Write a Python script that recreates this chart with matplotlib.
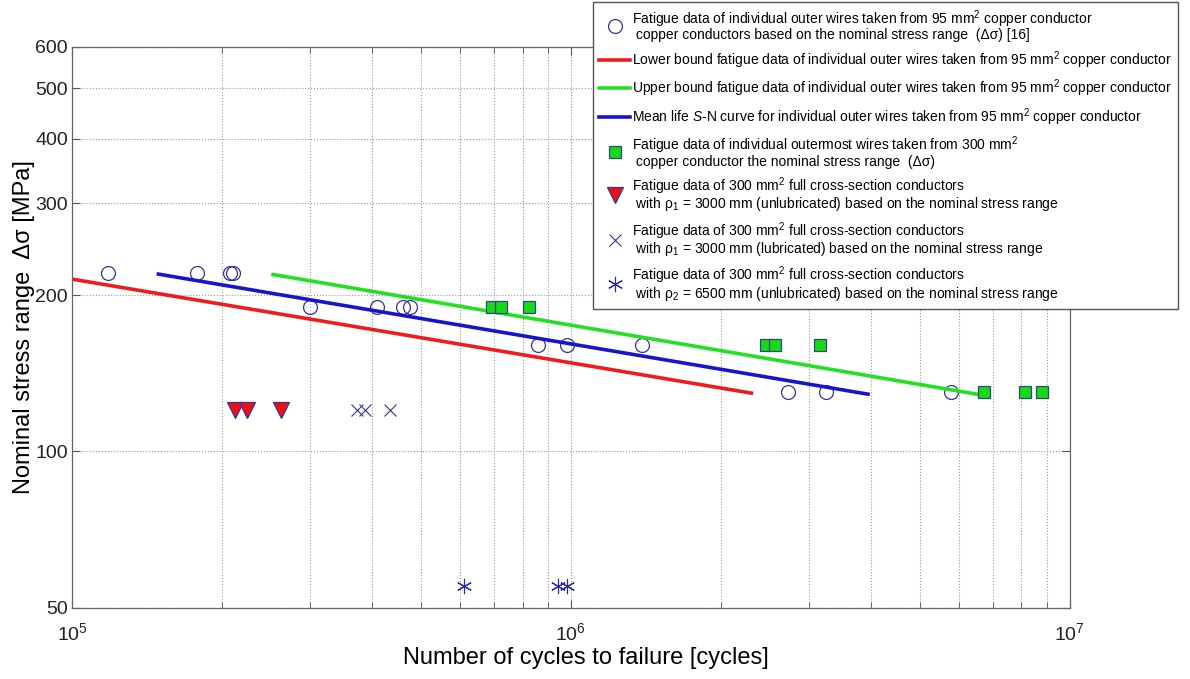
import matplotlib
matplotlib.use('Agg')
import matplotlib.pyplot as plt
from matplotlib.ticker import FixedLocator, FixedFormatter, NullLocator, LogLocator, NullFormatter

plt.rcParams['font.family'] = ['Liberation Sans', 'DejaVu Sans']
plt.rcParams['mathtext.fontset'] = 'custom'
plt.rcParams['mathtext.rm'] = 'Liberation Sans'
plt.rcParams['mathtext.it'] = 'Liberation Sans:italic'
plt.rcParams['mathtext.bf'] = 'Liberation Sans:bold'

# 95 mm2 outer wires (circles)
circ_N = [1.18e5, 1.78e5, 2.07e5, 2.1e5, 3.0e5, 4.08e5, 4.6e5, 4.75e5,
          8.6e5, 9.8e5, 1.39e6, 2.72e6, 3.24e6, 5.77e6]
circ_S = [220, 220, 220, 220, 190, 190, 190, 190, 160, 160, 160, 130, 130, 130]

# 300 mm2 outermost wires (squares)
sq_N = [6.95e5, 7.25e5, 8.24e5, 2.46e6, 2.56e6, 3.15e6, 6.73e6, 8.13e6, 8.79e6]
sq_S = [190, 190, 190, 160, 160, 160, 130, 130, 130]

# full cross-section, rho1 unlubricated (triangles)
tri_N = [2.12e5, 2.24e5, 2.62e5]
tri_S = [120, 120, 120]

# full cross-section, rho1 lubricated (crosses)
x_N = [3.72e5, 3.86e5, 4.33e5]
x_S = [120, 120, 120]

# full cross-section, rho2 unlubricated (asterisks)
ast_N = [6.1e5, 9.42e5, 9.82e5]
ast_S = [55, 55, 55]

# S-N lines (end points)
lower_N = [1.0e5, 2.3e6]
lower_S = [214.6, 129.5]
upper_N = [2.53e5, 6.67e6]
upper_S = [219, 128.4]
mean_N = [1.49e5, 3.94e6]
mean_S = [219.4, 128.9]

y_ticks = [50, 100, 200, 300, 400, 500, 600]

edge = '#34349a'

fig = plt.figure(figsize=(11.9, 6.79), dpi=100)
ax = fig.add_axes([0.0605, 0.1046, 0.8385, 0.8262])

ax.set_xscale('log')
ax.set_yscale('log')

# grid
ax.grid(True, which='both', axis='x', linestyle=':', color='#9a9a9a', linewidth=0.8)
ax.grid(True, which='major', axis='y', linestyle=':', color='#9a9a9a', linewidth=0.8)

h1, = ax.plot(circ_N, circ_S, 'o', markersize=10, markerfacecolor='none',
              markeredgecolor=edge, markeredgewidth=0.9, linestyle='none')
h2, = ax.plot(lower_N, lower_S, color='#ee1c1c', linewidth=2.6)
h3, = ax.plot(upper_N, upper_S, color='#22e022', linewidth=2.6)
h4, = ax.plot(mean_N, mean_S, color='#1515cc', linewidth=2.6)
h5, = ax.plot(sq_N, sq_S, 's', markersize=8, markerfacecolor='#18d818',
              markeredgecolor='#2a4a7a', markeredgewidth=0.9, linestyle='none')
h6, = ax.plot(tri_N, tri_S, 'v', markersize=11, markerfacecolor='#ee1111',
              markeredgecolor=edge, markeredgewidth=0.9, linestyle='none')
h7, = ax.plot(x_N, x_S, 'x', markersize=9, color=edge, markeredgewidth=0.8,
              linestyle='none')
h8, = ax.plot(ast_N, ast_S, marker=(6, 2, 0), markersize=11, color='#2626b8',
              markeredgewidth=0.8, linestyle='none')

ax.set_xlim(1e5, 1e7)
ax.set_ylim(50, 600)

ax.yaxis.set_major_locator(FixedLocator(y_ticks))
ax.yaxis.set_major_formatter(FixedFormatter([str(v) for v in y_ticks]))
ax.yaxis.set_minor_locator(NullLocator())
ax.xaxis.set_major_locator(LogLocator(base=10, numticks=5))
ax.xaxis.set_minor_locator(LogLocator(base=10, subs=range(2, 10), numticks=20))
ax.xaxis.set_minor_formatter(NullFormatter())

ax.tick_params(which='both', direction='in', top=True, right=True,
               labelsize=14, color='#555555', labelcolor='#222222')
ax.tick_params(which='major', length=6)
ax.tick_params(which='minor', length=4)
ax.tick_params(axis='x', which='major', pad=10)
ax.tick_params(axis='y', which='major', pad=3)
for s in ax.spines.values():
    s.set_color('#666666')
    s.set_linewidth(0.9)

ax.set_xlabel('Number of cycles to failure [cycles]', fontsize=17)
ax.xaxis.set_label_coords(0.515, -0.07)
ax.set_ylabel('Nominal stress range  Δσ [MPa]', fontsize=17)
ax.yaxis.set_label_coords(-0.037, 0.5)

labels = [
    'Fatigue data of individual outer wires taken from 95 mm$^2$ copper conductor\n'
    ' copper conductors based on the nominal stress range  (Δσ) [16]',
    'Lower bound fatigue data of individual outer wires taken from 95 mm$^2$ copper conductor',
    'Upper bound fatigue data of individual outer wires taken from 95 mm$^2$ copper conductor',
    'Mean life $S$-N curve for individual outer wires taken from 95 mm$^2$ copper conductor',
    'Fatigue data of individual outermost wires taken from 300 mm$^2$\n'
    ' copper conductor the nominal stress range  (Δσ)',
    'Fatigue data of 300 mm$^2$ full cross-section conductors\n'
    ' with ρ$_1$ = 3000 mm (unlubricated) based on the nominal stress range',
    'Fatigue data of 300 mm$^2$ full cross-section conductors\n'
    ' with ρ$_1$ = 3000 mm (lubricated) based on the nominal stress range',
    'Fatigue data of 300 mm$^2$ full cross-section conductors\n'
    ' with ρ$_2$ = 6500 mm (unlubricated) based on the nominal stress range',
]
leg = fig.legend([h1, h2, h3, h4, h5, h6, h7, h8], labels,
                 loc='upper right', bbox_to_anchor=(0.99, 0.997),
                 fontsize=10, frameon=True, fancybox=False, framealpha=1,
                 edgecolor='#555555', handlelength=2.2, handletextpad=0.15,
                 borderpad=0.45, labelspacing=0.5, borderaxespad=0)
leg.get_frame().set_linewidth(1.0)
for t in leg.get_texts():
    t.set_linespacing(0.85)

fig.savefig('out.png', dpi=100)
